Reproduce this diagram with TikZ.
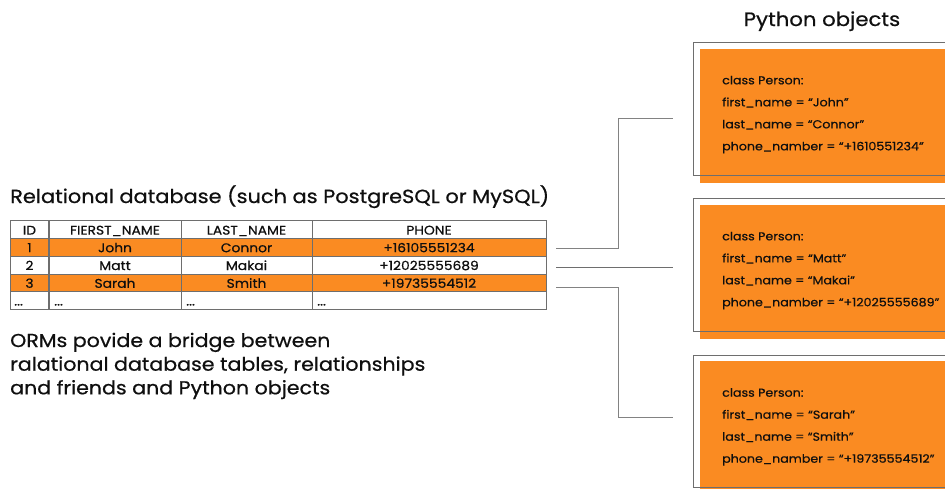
\documentclass[tikz,border=0pt]{standalone}
\usepackage{fontspec}
\setmainfont{Poppins}[FakeBold=0.6, FakeStretch=1.1]
\definecolor{ormorange}{RGB}{250,139,34}
\definecolor{txt}{RGB}{15,15,15}
\definecolor{gridc}{RGB}{110,110,110}
\definecolor{linkc}{RGB}{130,130,130}
\tikzset{
  rowbox/.style={draw=gridc, line width=0.9pt, minimum width=536pt, minimum height=17.8pt, anchor=north west, inner sep=0pt, outer sep=0pt},
  cell/.style={text=txt, inner sep=0pt, anchor=base, font=\fontsize{12.6}{14}\selectfont},
  lcell/.style={cell, anchor=base west},
  orangebox/.style={fill=ormorange, draw=none, anchor=north west, minimum width=250pt, inner sep=0pt, outer sep=0pt},
  framebox/.style={draw=gridc, line width=0.9pt, anchor=north west, minimum width=270pt, inner sep=0pt, outer sep=0pt},
  code/.style={text=txt, anchor=base west, inner sep=0pt, font=\fontsize{11.5}{13}\selectfont},
  heading/.style={text=txt, anchor=base west, inner sep=0pt, font=\fontsize{19}{22}\selectfont},
  ormtext/.style={heading, font=\fontsize{18.7}{21}\selectfont},
  link/.style={draw=linkc, line width=0.9pt},
}
\begin{document}
\begin{tikzpicture}[x=1pt,y=-1pt]
\useasboundingbox (0,0) rectangle (945,488);
\fill[white] (0,0) rectangle (945,488);

% title
\node[text=txt, anchor=base, inner sep=0pt, font=\fontsize{19.3}{22}\selectfont] (title) at (822,26) {Python objects};

% heading
\node[heading] (dbtitle) at (10,203) {Relational database (such as PostgreSQL or MySQL)};

% table rows
\node[rowbox] (r0) at (10,220.7) {};
\node[rowbox, fill=ormorange] (r1) at (10,238.5) {};
\node[rowbox] (r2) at (10,256.3) {};
\node[rowbox, fill=ormorange] (r3) at (10,274.1) {};
\node[rowbox] (r4) at (10,291.9) {};
% column separators
\draw[draw=gridc, line width=1.3pt] (r0.north west -| 49,0) -- (r4.south west -| 49,0);
\draw[draw=gridc, line width=0.9pt] (r0.north west -| 181,0) -- (r4.south west -| 181,0);
\draw[draw=gridc, line width=0.9pt] (r0.north west -| 312,0) -- (r4.south west -| 312,0);

% header
\node[cell] (h1) at (29.5,234.6) {ID};
\node[cell] (h2) at (115,234.6) {FIERST\_NAME};
\node[cell] (h3) at (246.5,234.6) {LAST\_NAME};
\node[cell] (h4) at (429,234.6) {PHONE};
% row 1
\node[cell] (a1) at (29.5,252.2) {1};
\node[cell] (a2) at (115,252.2) {John};
\node[cell] (a3) at (246.5,252.2) {Connor};
\node[cell] (a4) at (429,252.2) {+16105551234};
% row 2
\node[cell] (b1) at (29.5,270) {2};
\node[cell] (b2) at (115,270) {Matt};
\node[cell] (b3) at (246.5,270) {Makai};
\node[cell] (b4) at (429,270) {+12025555689};
% row 3
\node[cell] (c1) at (29.5,287.8) {3};
\node[cell] (c2) at (115,287.8) {Sarah};
\node[cell] (c3) at (246.5,287.8) {Smith};
\node[cell] (c4) at (429,287.8) {+19735554512};
% row 4
\node[lcell] (d1) at (14,305.5) {...};
\node[lcell] (d2) at (54,305.5) {...};
\node[lcell] (d3) at (186,305.5) {...};
\node[lcell] (d4) at (317,305.5) {...};

% ORM text
\node[ormtext] (orm1) at (10,347) {ORMs povide a bridge between};
\node[ormtext] (orm2) at (10,370.7) {ralational database tables, relationships};
\node[ormtext] (orm3) at (10,394.3) {and friends and Python objects};

% object boxes
\node[orangebox, minimum height=134pt] (o1) at (700,49) {};
\node[framebox, minimum height=133pt] (f1) at (693,42) {};
\node[orangebox, minimum height=134pt] (o2) at (700,205) {};
\node[framebox, minimum height=133pt] (f2) at (693,198) {};
\node[orangebox, minimum height=140pt] (o3) at (700,361) {};
\node[framebox, minimum height=132pt] (f3) at (693,355) {};

\node[code] (p1a) at (722,84.3) {class Person:};
\node[code] (p1b) at (722,106.3) {first\_name = “John”};
\node[code] (p1c) at (722,128.3) {last\_name = “Connor”};
\node[code] (p1d) at (722,150.3) {phone\_namber = “+1610551234”};

\node[code] (p2a) at (722,240.3) {class Person:};
\node[code] (p2b) at (722,262.3) {first\_name = “Matt”};
\node[code] (p2c) at (722,284.3) {last\_name = “Makai”};
\node[code] (p2d) at (722,306.3) {phone\_namber = “+12025555689”};

\node[code] (p3a) at (722,396.7) {class Person:};
\node[code] (p3b) at (722,418.7) {first\_name = “Sarah”};
\node[code] (p3c) at (722,440.7) {last\_name = “Smith”};
\node[code] (p3d) at (722,462.7) {phone\_namber = “+19735554512”};

% connectors
\coordinate (s1) at (556,248);
\coordinate (e1) at (673,118);
\coordinate (s2) at (556,267);
\coordinate (e2) at (673,267);
\coordinate (s3) at (556,287);
\coordinate (e3) at (673,417);
\draw[link] (s1) -- (s1 -| 618,0) |- (e1);
\draw[link, draw=gridc] (s2) -- (e2);
\draw[link] (s3) -- (s3 -| 618,0) |- (e3);
\end{tikzpicture}
\end{document}
